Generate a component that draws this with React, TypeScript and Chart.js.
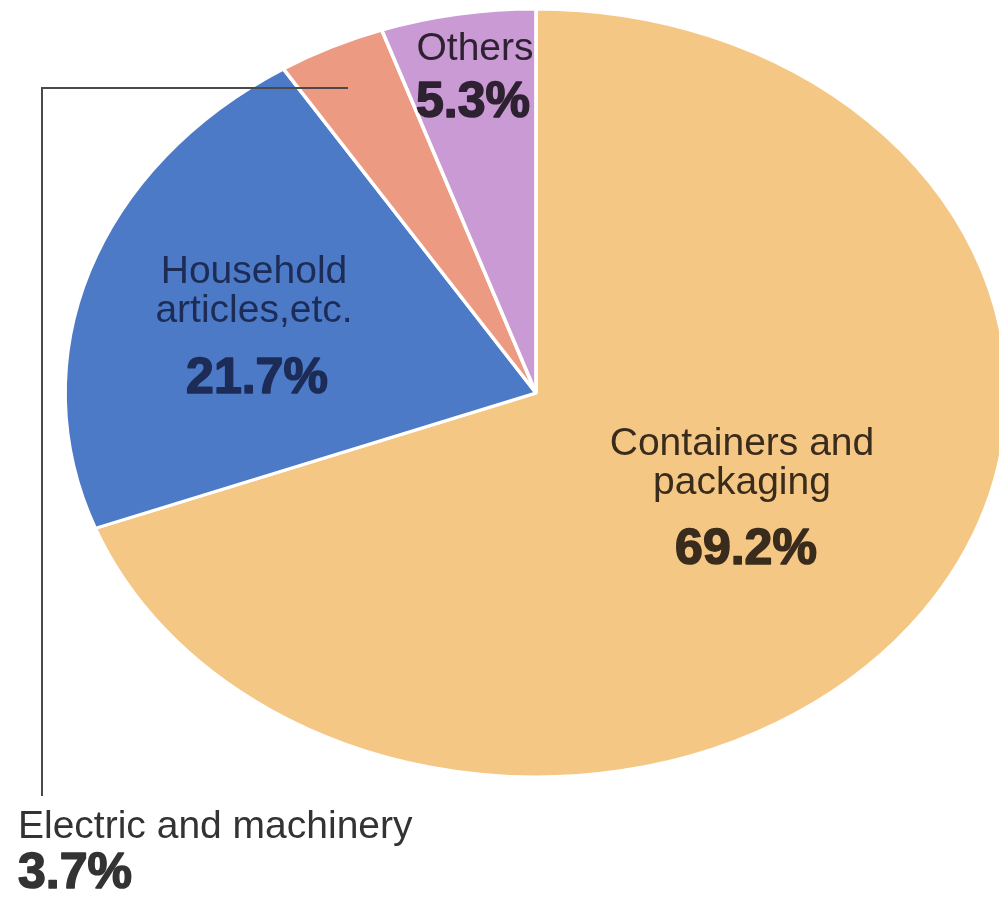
import React, { useEffect, useRef } from "react";
import { Chart, registerables } from "chart.js";

Chart.register(...registerables);

// ---- data ----
const categories = [
  "Containers and packaging",
  "Household articles,etc.",
  "Electric and machinery",
  "Others",
];
const shares = [69.2, 21.7, 3.7, 5.3];
const valueLabels = ["69.2%", "21.7%", "3.7%", "5.3%"];
const sliceColors = ["#F5C785", "#4D7AC6", "#EC9B82", "#C99AD3"];

// ---- layout / style (not data) ----
const CANVAS_W = 991;
const CANVAS_H = 887;
const RADIUS_Y = 384;
const RADIUS_X = 471;
const STRETCH_X = RADIUS_X / RADIUS_Y;
const CENTER_X = 528;

type LabelSpec = {
  lines: string[];
  lineY: number[];
  x: number;
  valueX: number;
  valueY: number;
  align: CanvasTextAlign;
  color: string;
};

const labelLayout: LabelSpec[] = [
  { lines: ["Containers and", "packaging"], lineY: [447, 486], x: 734, valueX: 738, valueY: 556, align: "center", color: "#3a2c1c" },
  { lines: ["Household", "articles,etc."], lineY: [275, 314], x: 246, valueX: 249, valueY: 385, align: "center", color: "#1c2c56" },
  { lines: ["Electric and machinery"], lineY: [830], x: 10, valueX: 10, valueY: 880, align: "left", color: "#333333" },
  { lines: ["Others"], lineY: [52], x: 467, valueX: 465, valueY: 109, align: "center", color: "#2e2232" },
];

const leaderPath: [number, number][] = [
  [34, 788],
  [34, 80],
  [340, 80],
];

const ellipsePlugin = {
  id: "ellipsePie",
  beforeDatasetsDraw(chart: any) {
    const arc = chart.getDatasetMeta(0).data[0];
    const ctx = chart.ctx;
    ctx.save();
    ctx.translate(arc.x, arc.y);
    ctx.scale(STRETCH_X, 1);
    ctx.translate(-arc.x, -arc.y);
  },
  afterDatasetsDraw(chart: any) {
    chart.ctx.restore();
  },
  afterDraw(chart: any) {
    const ctx: CanvasRenderingContext2D = chart.ctx;
    ctx.save();
    // leader line for the small slice
    ctx.strokeStyle = "#4a4a4a";
    ctx.lineWidth = 2;
    ctx.beginPath();
    leaderPath.forEach(([px, py], i) => (i === 0 ? ctx.moveTo(px, py) : ctx.lineTo(px, py)));
    ctx.stroke();

    labelLayout.forEach((lab, i) => {
      ctx.fillStyle = lab.color;
      ctx.textAlign = lab.align;
      ctx.textBaseline = "alphabetic";
      ctx.font = "39px 'Liberation Sans', Arial, sans-serif";
      lab.lines.forEach((ln, j) => ctx.fillText(ln, lab.x, lab.lineY[j]));
      ctx.font = "bold 50px 'Liberation Sans', Arial, sans-serif";
      ctx.strokeStyle = lab.color;
      ctx.lineWidth = 1.6;
      ctx.lineJoin = "round";
      ctx.fillText(valueLabels[i], lab.valueX, lab.valueY);
      ctx.strokeText(valueLabels[i], lab.valueX, lab.valueY);
    });
    ctx.restore();
  },
};

export default function App() {
  const canvasRef = useRef<HTMLCanvasElement | null>(null);

  useEffect(() => {
    if (!canvasRef.current) return;
    const chart = new Chart(canvasRef.current, {
      type: "pie",
      data: {
        labels: categories,
        datasets: [
          {
            data: shares,
            backgroundColor: sliceColors,
            borderColor: "#ffffff",
            borderWidth: 3,
            hoverOffset: 0,
            radius: RADIUS_Y,
            clip: false,
          } as any,
        ],
      },
      options: {
        responsive: false,
        animation: false,
        rotation: 0,
        layout: {
          padding: {
            left: CENTER_X - RADIUS_Y,
            right: CANVAS_W - (CENTER_X + RADIUS_Y),
            top: 1,
            bottom: CANVAS_H - (1 + 2 * RADIUS_Y),
          },
        },
        plugins: {
          legend: { display: false },
          tooltip: { enabled: false },
        },
      },
      plugins: [ellipsePlugin],
    });
    return () => chart.destroy();
  }, []);

  return (
    <div style={{ width: CANVAS_W, height: CANVAS_H, background: "#ffffff" }}>
      <canvas ref={canvasRef} width={CANVAS_W} height={CANVAS_H} style={{ display: "block" }} />
    </div>
  );
}
